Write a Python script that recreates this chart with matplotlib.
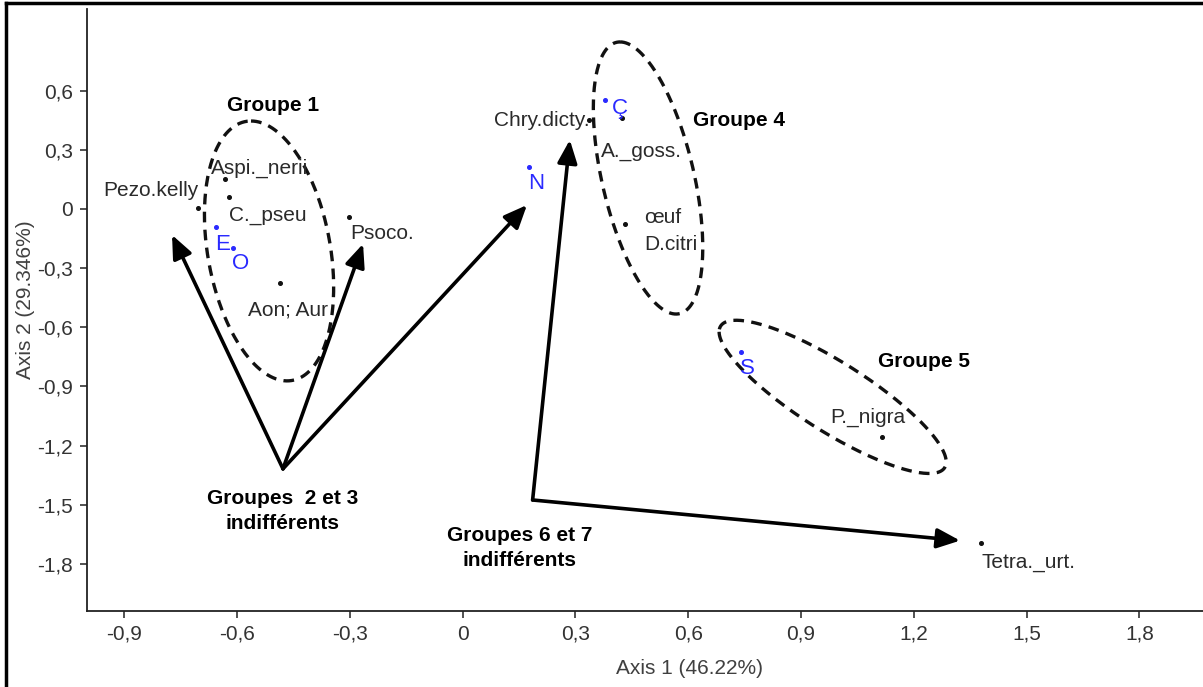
import numpy as np
import matplotlib
matplotlib.use("Agg")
import matplotlib.pyplot as plt
from matplotlib.lines import Line2D

# ---------------- data ----------------
labels = ["Pezo.kelly", "Aspi._nerii", "C._pseu", "E", "O", "Aon; Aur", "Psoco.",
          "Chry.dicty.", "Ç", "A._goss.", "œuf\nD.citri", "N", "S", "P._nigra", "Tetra._urt."]
x_vals = [-0.703, -0.632, -0.622, -0.656, -0.612, -0.486, -0.302,
          0.336, 0.378, 0.423, 0.432, 0.177, 0.739, 1.114, 1.378]
y_vals = [0.004, 0.151, 0.059, -0.091, -0.199, -0.377, -0.039,
          0.451, 0.553, 0.460, -0.076, 0.215, -0.724, -1.158, -1.695]
is_blue = [False, False, False, True, True, False, False,
           False, True, False, False, True, True, False, False]

group_names = ["Groupe 1", "Groupe 4", "Groupe 5",
               "Groupes  2 et 3\nindifférents", "Groupes 6 et 7\nindifférents"]
group_x = [-0.504, 0.735, 1.227, -0.480, 0.152]
group_y = [0.527, 0.451, -0.776, -1.531, -1.719]

# ellipses: centre, conjugate semi-axis vectors U and V (data units)
ell_cx = [-0.515, 0.493, 0.984]
ell_cy = [-0.213, 0.157, -0.953]
ell_ux = [-0.048, -0.0745, -0.302]
ell_uy = [0.659, 0.690, 0.330]
ell_vx = [0.165, 0.125, 0.0]
ell_vy = [0.0, 0.0, -0.205]

# arrows: origin -> tip
arr_x0 = [-0.478, -0.478, -0.478, 0.186, 0.186]
arr_y0 = [-1.318, -1.318, -1.318, -1.476, -1.476]
arr_x1 = [-0.773, -0.265, 0.171, 0.285, 1.323]
arr_y1 = [-0.132, -0.177, 0.020, 0.350, -1.682]

xticks = [-0.9, -0.6, -0.3, 0, 0.3, 0.6, 0.9, 1.2, 1.5, 1.8]
xtick_labels = ["-0,9", "-0,6", "-0,3", "0", "0,3", "0,6", "0,9", "1,2", "1,5", "1,8"]
yticks = [0.6, 0.3, 0, -0.3, -0.6, -0.9, -1.2, -1.5, -1.8]
ytick_labels = ["0,6", "0,3", "0", "-0,3", "-0,6", "-0,9", "-1,2", "-1,5", "-1,8"]

# ---------------- layout / style ----------------
# label offsets in points (dx, dy) and horizontal alignment
lab_off = [(-34, 13), (25, 8), (28, -13), (5, -13), (6, -11), (6, -19), (24, -12),
           (-34, 0), (11, -6), (14, -24), (14, -5), (5, -12), (5, -12), (-10, 14), (34, -14)]
lab_ha = ["center"] * 10 + ["left"] + ["center"] * 4

plt.rcParams["font.family"] = ["Liberation Sans", "DejaVu Sans"]
W, H = 1203, 687
fig = plt.figure(figsize=(W / 100, H / 100), dpi=100)
ax = fig.add_axes([86.7 / W, (H - 611) / H, (W - 86.7) / W, (611 - 9) / H])
ax.set_xlim(-1.0, 1.969)
ax.set_ylim(-2.039, 1.014)

for s in ["top", "right"]:
    ax.spines[s].set_visible(False)
for s in ["left", "bottom"]:
    ax.spines[s].set_linewidth(1.3)
    ax.spines[s].set_color("#222222")

ax.set_xticks(xticks)
ax.set_xticklabels(xtick_labels)
ax.set_yticks(yticks)
ax.set_yticklabels(ytick_labels)
ax.tick_params(direction="out", length=5, width=1.1, labelsize=15, colors="#222222",
               labelcolor="#333333", pad=5)

text_col = "#2a2a2a"
blue = "#2a2aff"

# points
for x, y, b in zip(x_vals, y_vals, is_blue):
    ax.plot(x, y, "o", ms=2.6, color=blue if b else "#111111", zorder=4)

# labels
for lab, x, y, b, off, ha in zip(labels, x_vals, y_vals, is_blue, lab_off, lab_ha):
    ax.annotate(lab, (x, y), xytext=off, textcoords="offset points",
                ha=ha, va="center", fontsize=15 if not b else 16,
                color=blue if b else text_col, linespacing=1.55, zorder=5)

# ellipses
t = np.linspace(0, 2 * np.pi, 300)
for cx, cy, ux, uy, vx, vy in zip(ell_cx, ell_cy, ell_ux, ell_uy, ell_vx, ell_vy):
    ex = cx + ux * np.cos(t) + vx * np.sin(t)
    ey = cy + uy * np.cos(t) + vy * np.sin(t)
    ax.plot(ex, ey, color="#111111", lw=2.4, linestyle=(0, (3.2, 2.2)), zorder=3)

# arrows
for x0, y0, x1, y1 in zip(arr_x0, arr_y0, arr_x1, arr_y1):
    ax.annotate("", xy=(x1, y1), xytext=(x0, y0),
                arrowprops=dict(arrowstyle="-|>,head_length=0.7,head_width=0.3",
                                lw=2.6, color="black", shrinkA=0, shrinkB=0,
                                mutation_scale=20), zorder=3)

# group labels
for name, gx, gy in zip(group_names, group_x, group_y):
    ax.text(gx, gy, name, ha="center", va="center", fontsize=15, fontweight="bold",
            color="black", linespacing=1.4, zorder=5)

# axis titles
fig.text(690 / W, 1 - 668 / H, "Axis 1 (46.22%)", ha="center", va="center",
         fontsize=15, color="#404040")
fig.text(26 / W, 1 - 300 / H, "Axis 2 (29.346%)", ha="center", va="center",
         rotation=90, fontsize=15, color="#404040")

# outer frame
fig.add_artist(Line2D([6 / W, 6 / W], [0, 1 - 3 / H], transform=fig.transFigure,
                      color="black", lw=2.5))
fig.add_artist(Line2D([6 / W, 1], [1 - 3 / H, 1 - 3 / H], transform=fig.transFigure,
                      color="black", lw=2.5))

fig.savefig("out.png", dpi=100)
